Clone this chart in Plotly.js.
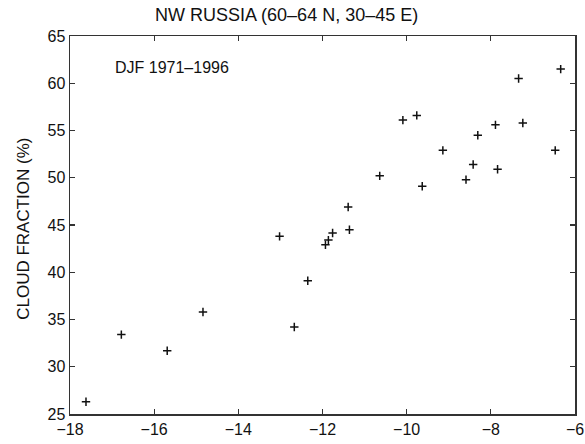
<!DOCTYPE html>
<html>
<head>
<meta charset="utf-8">
<script src="https://cdn.plot.ly/plotly-3.0.1.min.js"></script>
<style>html,body{margin:0;padding:0;background:#fff;}#chart{width:585px;height:444px;}</style>
</head>
<body>
<div id="chart"></div>
<script>
// Winter (DJF) temperature anomaly vs cloud fraction, NW Russia
const temperature = [-17.62, -16.78, -15.69, -14.84, -13.02, -12.35, -12.67,
  -11.39, -11.36, -11.76, -11.93, -11.86,
  -6.34, -7.34, -10.09, -9.76, -7.89, -7.24, -8.31, -9.14, -6.47, -8.42, -7.84, -10.64, -8.59, -9.63];
const cloudFraction = [26.3, 33.4, 31.7, 35.8, 43.8, 39.1, 34.2,
  46.9, 44.5, 44.15, 42.9, 43.4,
  61.5, 60.5, 56.1, 56.6, 55.6, 55.8, 54.5, 52.9, 52.9, 51.4, 50.9, 50.2, 49.8, 49.1];
const xTicks = [-18, -16, -14, -12, -10, -8, -6];
const yTicks = [25, 30, 35, 40, 45, 50, 55, 60, 65];
const titleText = 'NW RUSSIA (60–64 N, 30–45 E)';
const yTitleText = 'CLOUD FRACTION (%)';
const periodLabel = 'DJF 1971–1996';

const FONT = '"Liberation Sans", Arial, Helvetica, sans-serif';
const axisCommon = {
  showgrid: false, zeroline: false, showline: true, mirror: 'ticks',
  linecolor: '#333', linewidth: 1.5, ticks: 'inside', ticklen: 5,
  tickwidth: 1.2, tickcolor: '#333',
  tickfont: {family: FONT, size: 16, color: '#111'}
};

const trace = {
  x: temperature, y: cloudFraction, type: 'scatter', mode: 'markers',
  marker: {symbol: 'cross-thin', size: 6, line: {width: 1.5, color: '#111'}, color: '#111'},
  hoverinfo: 'skip'
};

const layout = {
  width: 585, height: 444,
  margin: {l: 70, r: 10, t: 36, b: 30},
  paper_bgcolor: '#fff', plot_bgcolor: '#fff',
  showlegend: false,
  font: {family: FONT, color: '#111'},
  title: {text: titleText, font: {family: FONT, size: 18, color: '#111'},
          x: 0.49, xanchor: 'center', y: 0.968, yanchor: 'middle'},
  xaxis: Object.assign({}, axisCommon, {range: [-18, -6], tickvals: xTicks,
          ticktext: xTicks.map(v => v < 0 ? '−' + Math.abs(v) : String(v))}),
  yaxis: Object.assign({}, axisCommon, {range: [25, 65], tickvals: yTicks,
          ticktext: yTicks.map(String)}),
  annotations: [
    {text: yTitleText, xref: 'paper', yref: 'paper', x: -0.091, y: 0.49,
     xanchor: 'center', yanchor: 'middle', textangle: -90, showarrow: false,
     font: {family: FONT, size: 17, color: '#111'}},
    {text: periodLabel, xref: 'x', yref: 'y', x: -16.97, y: 61.7,
     xanchor: 'left', yanchor: 'middle', showarrow: false,
     font: {family: FONT, size: 16, color: '#111'}}
  ]
};

Plotly.newPlot('chart', [trace], layout, {staticPlot: true, displayModeBar: false});
</script>
</body>
</html>
